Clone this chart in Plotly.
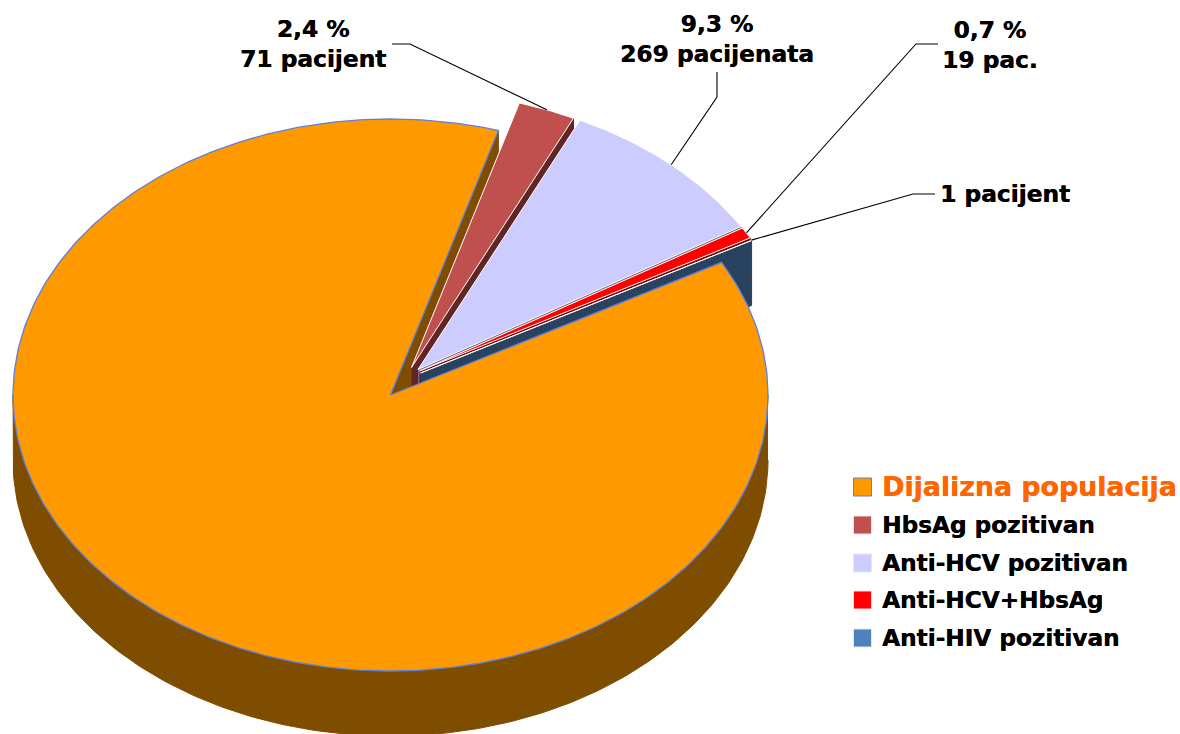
import numpy as np
import plotly.graph_objects as go

# ---- data ----
categories = ["Dijalizna populacija", "HbsAg pozitivan", "Anti-HCV pozitivan", "Anti-HCV+HbsAg", "Anti-HIV pozitivan"]
patients = [2540, 71, 269, 19, 1]
label_lines = [None, "2,4 %<br>71 pacijent", "9,3 %<br>269 pacijenata", "0,7 %<br>19 pac.", "1 pacijent"]

# ---- style / geometry ----
top_colors = ["#FF9900", "#C0504D", "#CCCCFF", "#FF0000", "#4F81BD"]
wall_colors = ["#7F4D00", "#632523", "#6C6C8A", "#800000", "#284260"]
edge_colors = ["#5B80E0", "#FFFFFF", "#FFFFFF", "#FFFFFF", "#FFFFFF"]
FONT = "DejaVu Sans"
CX, CY, A, B, DEPTH = 390.5, 395.0, 377.5, 276.0, 65.0
FIRST_ANGLE = 16.6
slice_offsets = [(0, 0), (21, -27.5), (27.5, -25.5), (29, -24), (30, -22)]
label_pos = [None, (313, 43), (717, 38), (989.5, 44), (1005, 193.5)]
label_elbows = [None, [(392, 44), (410, 44)], [(717, 72), (717, 97)], [(938, 44), (916, 44)], [(935, 194), (913, 194)]]
legend_y = [487, 525, 563, 600, 638]

vals = np.array(patients, float)
order = [1, 2, 3, 4]
sweep = vals / vals.sum() * 360.0

fig = go.Figure()


def pt(t, ox=0.0, oy=0.0, dz=0.0):
    r = np.radians(t)
    return CX + ox + A * np.sin(r), CY + oy - B * np.cos(r) + dz


def poly(xs, ys, fill, line=None, width=1.0):
    fig.add_trace(go.Scatter(
        x=list(xs), y=list(ys), mode="lines", fill="toself", fillcolor=fill,
        line=dict(color=line or fill, width=width), hoverinfo="skip", showlegend=False))


# angular extents, clockwise from the top
starts, ends = {}, {}
a = FIRST_ANGLE
for i in order:
    starts[i], ends[i] = a, a + sweep[i]
    a = ends[i]
o_start, o_end = a, FIRST_ANGLE + 360.0

# orange: outer wall (front half) and the radial wall at its end edge
tw = np.linspace(90, 270, 181)
xt, yt = pt(tw)
xb, yb = pt(tw, dz=DEPTH)
poly(np.r_[xt, xb[::-1]], np.r_[yt, yb[::-1]], wall_colors[0])
ex, ey = pt(FIRST_ANGLE)
poly([CX, ex, ex, CX], [CY, ey, ey + DEPTH, CY + DEPTH], wall_colors[0])

# exploded slices, back to front
for i in order:
    ox, oy = slice_offsets[i]
    ax0, ay0 = CX + ox, CY + oy
    ex, ey = pt(ends[i], ox, oy)
    poly([ax0, ex, ex, ax0], [ay0, ey, ey + DEPTH, ay0 + DEPTH], wall_colors[i])
    ts = np.linspace(starts[i], ends[i], max(3, int(sweep[i]) * 2 + 2))
    xs, ys = pt(ts, ox, oy)
    poly(np.r_[ax0, xs, ax0], np.r_[ay0, ys, ay0], top_colors[i], edge_colors[i], 1.0)

# orange top surface last
ts = np.linspace(o_start, o_end, 400)
xs, ys = pt(ts)
poly(np.r_[CX, xs, CX], np.r_[CY, ys, CY], top_colors[0], edge_colors[0], 1.3)

# leader lines end on the slice rims
for i in order:
    ox, oy = slice_offsets[i]
    mx, my = pt((starts[i] + ends[i]) / 2, ox, oy)
    pts = label_elbows[i] + [(mx, my)]
    fig.add_trace(go.Scatter(x=[p[0] for p in pts], y=[p[1] for p in pts], mode="lines",
                             line=dict(color="#000000", width=1.1), hoverinfo="skip", showlegend=False))

annotations = []
for i in order:
    x, y = label_pos[i]
    annotations.append(dict(x=x, y=y, xref="x", yref="y", text="<b>%s</b>" % label_lines[i], showarrow=False,
                            align="center", xanchor="center", yanchor="middle",
                            font=dict(family=FONT, size=23.3, color="#000000",
                                      shadow="0.4px 0 0 #000000")))

# legend
fig.add_trace(go.Scatter(
    x=[862.5] * 5, y=legend_y, mode="markers", hoverinfo="skip", showlegend=False,
    marker=dict(symbol="square", size=18, color=top_colors,
                line=dict(color=[edge_colors[0]] + ["#E8E8F0"] * 4, width=1))))
for i, name in enumerate(categories):
    first = i == 0
    color = "#FF6600" if first else "#000000"
    annotations.append(dict(x=879.5, y=legend_y[i] - 1, xref="x", yref="y", text="<b>%s</b>" % name, showarrow=False,
                            xanchor="left", yanchor="middle",
                            font=dict(family=FONT, size=26.8 if first else 23.2, color=color,
                                      shadow="0.4px 0 0 %s" % color)))

fig.update_layout(
    width=1180, height=734, margin=dict(l=0, r=0, t=0, b=0),
    paper_bgcolor="#FFFFFF", plot_bgcolor="#FFFFFF", showlegend=False,
    xaxis=dict(range=[0, 1180], visible=False, fixedrange=True),
    yaxis=dict(range=[734, 0], visible=False, fixedrange=True),
    annotations=annotations,
)
fig.write_html("out.html", config={"displayModeBar": False},
               post_script="document.body.style.margin='0';document.body.style.overflow='hidden';")
